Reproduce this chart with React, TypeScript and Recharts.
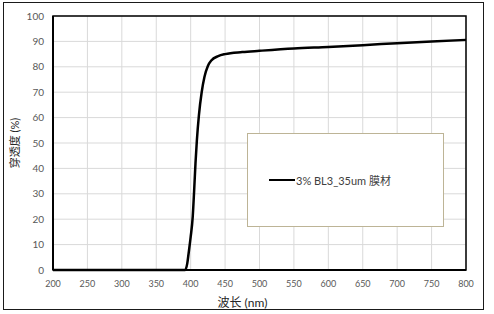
import React from 'react';
import { LineChart, Line, XAxis, YAxis, CartesianGrid, ReferenceArea, Legend, Label } from 'recharts';

// wavelength (nm) and transmittance (%)
const wavelengths = [200, 300, 390, 392, 395, 397, 400, 403, 405, 407, 409, 412, 416, 420, 425, 430, 440, 450, 475, 500, 550, 600, 650, 700, 750, 800];
const transmittance = [0, 0, 0, 0, 2.5, 6.5, 13, 21, 31, 42, 51, 61, 70, 76, 80.3, 82.5, 84.2, 85, 85.8, 86.3, 87.2, 87.8, 88.5, 89.3, 90, 90.6];

const xTicks = [200, 250, 300, 350, 400, 450, 500, 550, 600, 650, 700, 750, 800];
const yTicks = [0, 10, 20, 30, 40, 50, 60, 70, 80, 90, 100];

const seriesName = '3% BL3_35um 膜材';
const xTitle = '波长 (nm)';
const yTitle = '穿透度 (%)';

const data = wavelengths.map((w, i) => ({ w, t: transmittance[i] }));

const FONT = "Lato, 'Noto Sans CJK SC', sans-serif";

const LegendBox = () => (
    <div style={{
        width: 197, height: 94, border: '1px solid #bdb496', background: '#fff',
        boxSizing: 'border-box', display: 'flex', alignItems: 'center', paddingLeft: 21,
    }}>
        <div style={{ width: 26, height: 0, borderTop: '2.5px solid #000' }} />
        <span style={{ fontSize: 11, color: '#404040', fontFamily: FONT, marginLeft: 1 }}>{seriesName}</span>
    </div>
);

export default function App() {
    return (
        <div style={{ position: 'absolute', left: 0, top: 0, width: 494, height: 314, background: '#fff' }}>
            <div style={{
                position: 'absolute', left: 3, top: 2, width: 481, height: 308,
                border: '1.5px solid #1a1a1a', boxSizing: 'border-box',
            }} />
            <LineChart width={494} height={314} data={data}
                margin={{ top: 16, right: 28, left: 13, bottom: 14 }}
                style={{ fontFamily: FONT }}>
                <CartesianGrid stroke="#d9d9d9" strokeWidth={1} />
                <XAxis dataKey="w" type="number" domain={[200, 800]} ticks={xTicks}
                    height={30} tickLine={false} tickSize={0} tickMargin={11}
                    axisLine={{ stroke: '#000', strokeWidth: 2 }}
                    tick={{ fontSize: 9, fill: '#595959' }}>
                    <Label value={xTitle} position="insideBottom" offset={-7} dx={-17}
                        style={{ fontSize: 12, fill: '#262626' }} />
                </XAxis>
                <YAxis type="number" domain={[0, 100]} ticks={yTicks} width={40}
                    tickLine={false} tickSize={0} tickMargin={9}
                    axisLine={{ stroke: '#000', strokeWidth: 2 }}
                    tick={{ fontSize: 10, fill: '#595959' }}>
                    <Label value={yTitle} angle={-90} position="insideLeft" offset={2}
                        style={{ fontSize: 11, fill: '#262626', textAnchor: 'middle' }} />
                </YAxis>
                <ReferenceArea x1={200} x2={800} y1={0} y2={100} fill="none" stroke="#000" strokeWidth={1.5} ifOverflow="visible" />
                <Legend content={<LegendBox />} layout="horizontal" align="center" verticalAlign="middle"
                    wrapperStyle={{ left: 247, top: 133, width: 197 }} />
                <Line type="monotone" dataKey="t" name={seriesName} stroke="#000" strokeWidth={2.5}
                    dot={false} isAnimationActive={false} />
            </LineChart>
        </div>
    );
}
